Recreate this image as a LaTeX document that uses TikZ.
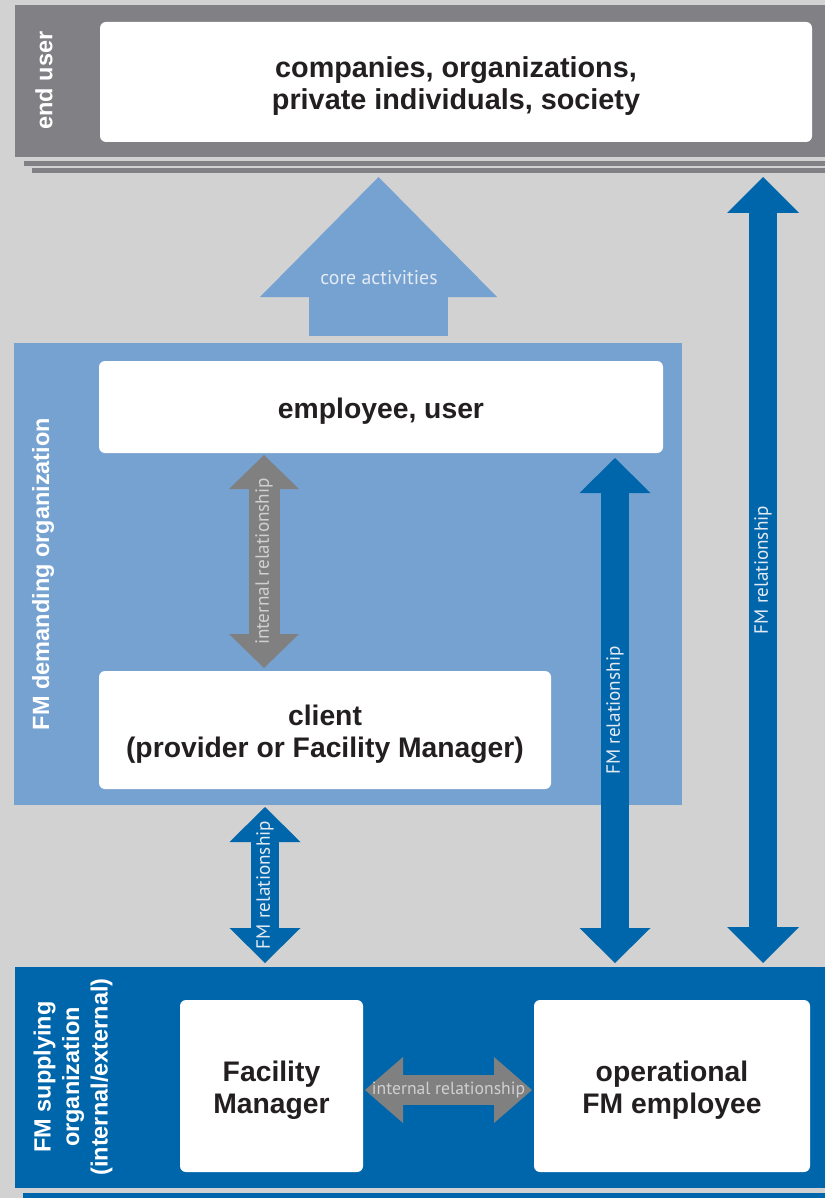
\documentclass[tikz,border=0pt]{standalone}
\usepackage{fontspec}
\setmainfont{Liberation Sans}
\newfontfamily\labelfont{PT Sans}
\usetikzlibrary{arrows.meta,calc}
\definecolor{bg}{HTML}{D2D2D2}
\definecolor{endgray}{HTML}{808085}
\definecolor{lightblue}{HTML}{76A2D2}
\definecolor{darkblue}{HTML}{0066AB}
\definecolor{relgray}{HTML}{808080}
\definecolor{boxtext}{HTML}{231F20}
\definecolor{lbltext}{HTML}{E4EAF2}
\definecolor{lblgray}{HTML}{D0D0D0}
\begin{document}
\begin{tikzpicture}[x=1pt,y=-1pt,
  panel/.style 2 args={anchor=north west, inner sep=0pt, outer sep=0pt, minimum width=#1, minimum height=#2},
  whitebox/.style 2 args={panel={#1}{#2}, fill=white, rounded corners=6pt},
  boxlbl/.style={align=center, inner sep=0pt, text=boxtext,
     font=\fontsize{28.3}{32}\selectfont\bfseries},
  sidelbl/.style={rotate=90, align=center, text=white, inner sep=0pt,
     font=\fontsize{23.5}{28.5}\selectfont\bfseries},
  rellbl/.style={midway, rotate=90, inner sep=0pt, font=\labelfont\fontsize{19.2}{20}\selectfont},
  hrellbl/.style={midway, inner sep=0pt, font=\labelfont\fontsize{17.6}{20}\selectfont},
  dblarrow/.style n args={4}{line width=#1, draw=#4,
     {Triangle[width=#2,length=#3,line width=0pt]}-{Triangle[width=#2,length=#3,line width=0pt]}},
  uparrow/.style n args={4}{line width=#1, draw=#4,
     -{Triangle[width=#2,length=#3,line width=0pt]}}
]
\useasboundingbox (0,0) rectangle (825,1198);
\fill[bg] (0,0) rectangle (825,1198);

% stacked sheets
\fill[endgray] (24,161) rectangle (825,166);
\fill[endgray] (32,168) rectangle (825,173);
\fill[darkblue] (23,1193) rectangle (825,1198);

% panels
\node[panel={810pt}{152pt}, fill=endgray] (enduser) at (15,5) {};
\node[panel={668pt}{462pt}, fill=lightblue] (demand) at (14,343) {};
\node[panel={810pt}{221pt}, fill=darkblue] (supply) at (15,967) {};

% side labels
\node[sidelbl] (eulbl) at (44,80.5) {end user};
\node[sidelbl] (dmlbl) at (43,574) {FM demanding organization};
\node[sidelbl] (splbl) at (73,1077) {FM supplying\\organization\\(internal/external)};

% white boxes
\node[whitebox={712pt}{120pt}] (society) at (100,22) {};
\node[whitebox={564pt}{92pt}] (emp) at (99,361) {};
\node[whitebox={452pt}{118pt}] (client) at (99,671) {};
\node[whitebox={183pt}{172pt}] (fm) at (180,1000) {};
\node[whitebox={276pt}{172pt}] (op) at (534,1000) {};

\node[boxlbl, font=\fontsize{28.8}{32}\selectfont\bfseries] (societyT) at ($(society.center)+(0,4)$) {companies, organizations,\\private individuals, society};
\node[boxlbl] (empT) at ($(emp.center)+(0,4)$) {employee, user};
\node[boxlbl] (clientT) at ($(client.center)+(0,4.5)$) {client\\(provider or Facility Manager)};
\node[boxlbl] (fmT) at ($(fm.center)+(0,4.5)$) {Facility\\Manager};
\node[boxlbl] (opT) at ($(op.center)+(0,4.5)$) {operational\\FM employee};

% arrow axes
\coordinate (cx) at (378.5,0);
\coordinate (ix) at (264,0);
\coordinate (fx) at (265,0);
\coordinate (mx) at (615,0);
\coordinate (rx) at (763,0);
\coordinate (hy) at (0,1090);

% core activities
\draw[uparrow={139pt}{237pt}{120pt}{lightblue}]
  ($(demand.north -| cx)+(0,-7)$) -- ($(enduser.south -| cx)+(0,20)$);
\node[font=\labelfont\fontsize{19.8}{20}\selectfont, text=lbltext, inner sep=0pt] (corelbl) at (379,278) {core activities};

% internal relationship (vertical)
\draw[dblarrow={31pt}{70pt}{34pt}{relgray}]
  ($(emp.south -| ix)+(0,2)$) -- ($(client.north -| ix)+(0,-3)$)
  node[rellbl, text=lblgray] {internal relationship};

% FM relationship client - supply
\draw[dblarrow={28pt}{71pt}{35pt}{darkblue}]
  ($(demand.south -| fx)+(0,2)$) -- ($(supply.north -| fx)+(0,-4)$)
  node[rellbl, text=lbltext] {FM relationship};

% FM relationship employee - supply
\draw[dblarrow={28pt}{71pt}{35pt}{darkblue}]
  ($(emp.south -| mx)+(0,5)$) -- ($(supply.north -| mx)+(0,-4)$)
  node[rellbl, text=lbltext] {FM relationship};

% FM relationship end user - supply
\draw[dblarrow={28pt}{72pt}{36pt}{darkblue}]
  ($(enduser.south -| rx)+(0,20)$) -- ($(supply.north -| rx)+(0,-4)$)
  node[rellbl, text=lbltext] {FM relationship};

% internal relationship (horizontal)
\draw[dblarrow={30pt}{66pt}{38pt}{relgray}]
  ($(fm.east |- hy)+(2,0)$) -- ($(op.west |- hy)+(-2,0)$)
  node[hrellbl, text=lblgray] {internal relationship};
\end{tikzpicture}
\end{document}
